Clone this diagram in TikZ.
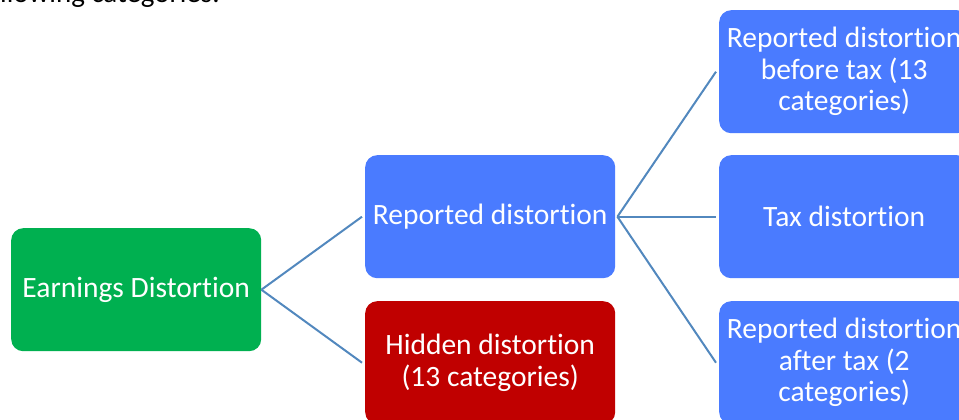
\documentclass[tikz,border=0pt]{standalone}
\usepackage{fontspec}
\setmainfont[Ligatures=NoCommon]{Carlito}
\definecolor{boxgreen}{HTML}{00B050}
\definecolor{boxblue}{HTML}{4A7BFF}
\definecolor{boxred}{HTML}{C00000}
\definecolor{linec}{HTML}{5288BE}
\begin{document}
\begin{tikzpicture}[x=1pt,y=-1pt,
  box/.style={rounded corners=12pt, minimum width=250pt, minimum height=123pt,
    inner sep=0pt, text=white, align=center, anchor=north west,
    font=\fontsize{29.5}{31.5}\selectfont},
  link/.style={draw=linec, line width=2pt}]
\useasboundingbox (0,0) rectangle (959,420);
\clip (0,0) rectangle (959,420);
\node[anchor=base west, inner sep=0pt, font=\fontsize{29}{32}\selectfont] (cap) at (0,3) {llowing categories.};
\node[box, fill=boxgreen] (earn) at (11,228) {Earnings Distortion};
\node[box, fill=boxblue] (rep) at (365,155) {Reported distortion};
\node[box, fill=boxred] (hid) at (365,301) {Hidden distortion\\(13 categories)};
\node[box, fill=boxblue] (rbt) at (719,10) {Reported distortion\\before tax (13\\categories)};
\node[box, fill=boxblue] (tax) at (719,155) {Tax distortion};
\node[box, fill=boxblue] (rat) at (719,301) {Reported distortion\\after tax (2\\categories)};
\draw[link] (earn.east) -- ([xshift=-3pt]rep.west);
\draw[link] (earn.east) -- ([xshift=-3pt]hid.west);
\draw[link] ([xshift=2pt]rep.east) -- ([xshift=-3pt]rbt.west);
\draw[link] ([xshift=2pt]rep.east) -- ([xshift=-3pt]tax.west);
\draw[link] ([xshift=2pt]rep.east) -- ([xshift=-3pt]rat.west);
\end{tikzpicture}
\end{document}
